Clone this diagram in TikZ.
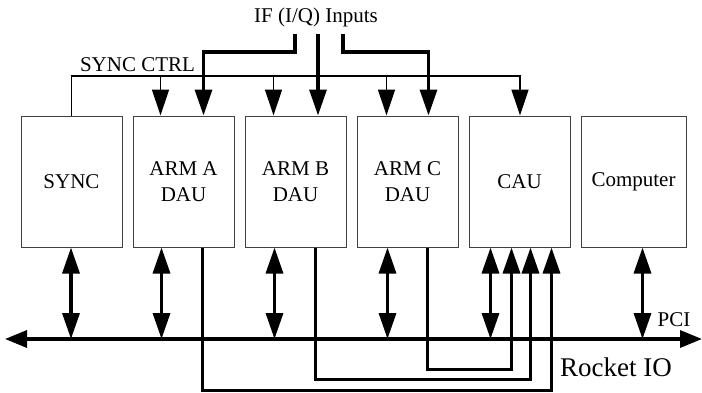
\documentclass[tikz,border=0pt]{standalone}
\usepackage{fontspec}
\setmainfont{Liberation Serif}
\usetikzlibrary{arrows.meta,positioning,calc}

\begin{document}
\begin{tikzpicture}[x=1pt, y=-1pt, font=\fontsize{21}{26}\selectfont,
    unit/.style={draw=black!75, line width=1pt, minimum width=101pt, minimum height=131pt,
        align=center, inner sep=0pt},
    thinline/.style={line width=1.3pt},
    thickline/.style={line width=3.3pt},
    headdown/.style={-{Triangle[length=26pt,width=17pt]}},
    headboth/.style={{Triangle[length=26pt,width=17pt]}-{Triangle[length=26pt,width=17pt]}},
    busends/.style={{Triangle[length=22pt,width=17pt]}-{Triangle[length=22pt,width=17pt]}}]
    \useasboundingbox (0,0) rectangle (702,392);

    % boards
    \node[unit] (sync) at (71.5,181.5) {SYNC};
    \node[unit, right=10pt of sync] (arma) {ARM A\\DAU};
    \node[unit, right=10pt of arma] (armb) {ARM B\\DAU};
    \node[unit, right=10pt of armb] (armc) {ARM C\\DAU};
    \node[unit, right=10pt of armc] (cau) {CAU};
    \node[unit, right=10pt of cau, minimum width=105pt] (pc) {Computer};

    % IF inputs
    \node (ifin) at (316,17) {IF (I/Q) Inputs};
    \coordinate (ifl) at (295,34);
    \coordinate (ifm) at (318,34);
    \coordinate (ifr) at (343,34);
    \draw[thickline, headdown] (ifl) -- ++(0,18) -| ($(arma.north west)+(71,0)$);
    \draw[thickline, headdown] (ifm) -- (ifm |- armb.north);
    \draw[thickline, headdown] (ifr) -- ++(0,18) -| ($(armc.north west)+(72,0)$);

    % sync control
    \node (ctrllbl) at (137.5,65) {SYNC CTRL};
    \coordinate (ctrl) at (520,76);
    \draw[thinline, headdown] (sync.north) |- (ctrl) -- (ctrl |- cau.north);
    \foreach \b/\dx in {arma/28, armb/29, armc/30}
        \draw[thinline, headdown] ($(\b.north west)+(\dx,-40)$) -- ($(\b.north west)+(\dx,0)$);

    % PCI bus
    \coordinate (busL) at (5,339);
    \coordinate (busR) at (702,339);
    \draw[thickline, busends] (busL) -- (busR);
    \node (pci) at (674,320) {PCI};
    \foreach \b/\dx in {sync/50.5, arma/29, armb/30, armc/31, cau/22, pc/62} {
        \coordinate (tap) at ($(\b.south west)+(\dx,0)$);
        \draw[thickline, headboth] (tap) -- (tap |- busL);
    }

    % rocket IO links
    \node[font=\fontsize{27}{30}\selectfont] (rio) at (616,367) {Rocket IO};
    \draw[thickline, headdown] ($(arma.south west)+(70,0)$) -- ++(0,143) -| ($(cau.south west)+(83,0)$);
    \draw[thickline, headdown] ($(armb.south west)+(71,0)$) -- ++(0,132) -| ($(cau.south west)+(62,0)$);
    \draw[thickline, headdown] ($(armc.south west)+(71,0)$) -- ++(0,122) -| ($(cau.south west)+(43,0)$);
\end{tikzpicture}
\end{document}
